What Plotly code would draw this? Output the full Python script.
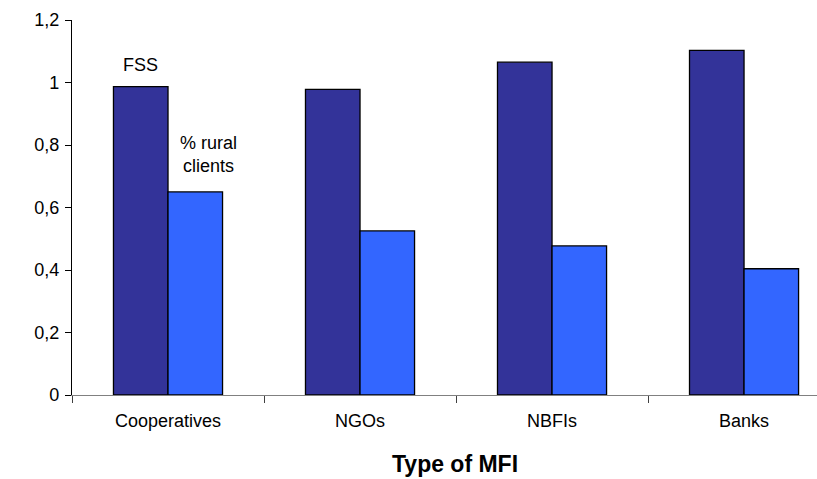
import plotly.graph_objects as go

categories = ["Cooperatives", "NGOs", "NBFIs", "Banks"]
fss = [0.987, 0.978, 1.065, 1.103]
rural = [0.65, 0.525, 0.477, 0.404]
y_tickvals = [0, 0.2, 0.4, 0.6, 0.8, 1.0, 1.2]
y_ticktext = ["0", "0,2", "0,4", "0,6", "0,8", "1", "1,2"]

FONT = "Liberation Sans, Arial, sans-serif"
FS = 18

fig = go.Figure()
fig.add_trace(go.Bar(x=categories, y=fss, name="FSS",
                     marker=dict(color="#333399", line=dict(color="black", width=1.3))))
fig.add_trace(go.Bar(x=categories, y=rural, name="% rural clients",
                     marker=dict(color="#3366FF", line=dict(color="black", width=1.3))))

fig.update_layout(
    width=817, height=479,
    margin=dict(l=72, r=0, t=20, b=84),
    paper_bgcolor="white", plot_bgcolor="white",
    barmode="group", bargap=0.432, bargroupgap=0,
    showlegend=False,
    font=dict(family=FONT, size=FS, color="black"),
)
fig.update_xaxes(
    type="category", range=[-0.5, 3.38],
    showline=True, linecolor="#808080", linewidth=1.3,
    ticks="outside", tickson="boundaries", ticklen=7, tickcolor="#404040", tickwidth=1,
    ticklabelstandoff=9,
    showgrid=False, zeroline=False,
    tickfont=dict(family=FONT, size=FS),
)
fig.update_yaxes(
    range=[0, 1.2], tickvals=y_tickvals, ticktext=y_ticktext,
    showline=True, linecolor="black", linewidth=1.3,
    ticks="outside", ticklen=6, tickcolor="black",
    ticklabelstandoff=2,
    showgrid=False, zeroline=False,
    tickfont=dict(family=FONT, size=FS),
)

fig.add_annotation(x=categories[0], y=1.056, xref="x", yref="y", text="FSS",
                   showarrow=False, xshift=-27.5, yanchor="middle",
                   font=dict(family=FONT, size=FS))
fig.add_annotation(x=categories[0], y=0.771, xref="x", yref="y", text="% rural<br>clients",
                   showarrow=False, xshift=40.5, yanchor="middle", align="center",
                   font=dict(family=FONT, size=FS))
fig.add_annotation(x=(455 - 72) / 745, y=-0.185, xref="paper", yref="paper",
                   text="<b>Type of MFI</b>", showarrow=False, yanchor="middle",
                   font=dict(family=FONT, size=23))

fig.write_html("out.html")
